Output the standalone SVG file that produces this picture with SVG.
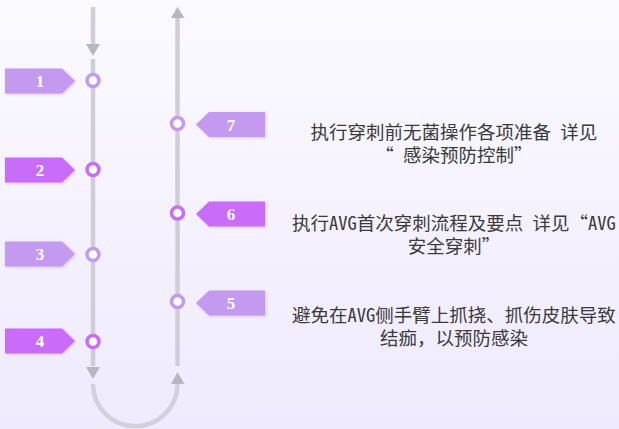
<svg xmlns="http://www.w3.org/2000/svg" width="619" height="429" viewBox="0 0 619 429">
<defs>
<linearGradient id="bg" x1="0" y1="0" x2="0" y2="1">
<stop offset="0" stop-color="#fbfaff"/>
<stop offset="1" stop-color="#efeafd"/>
</linearGradient>
<filter id="glow" x="-30%" y="-50%" width="160%" height="200%">
<feDropShadow dx="1" dy="1" stdDeviation="1.5" flood-color="#b070f0" flood-opacity="0.35"/>
</filter>
<style>
.rail{fill:none;stroke:#d0cdd6;stroke-width:4.5}
.arc{fill:none;stroke:#d3d0db;stroke-width:4.5}
.head{fill:#b8b6be}
.light{fill:#c39af0}
.dark{fill:#c86cf9}
.ringL{fill:#fff;stroke:#c39af0;stroke-width:3.5}
.ringD{fill:#fff;stroke:#c86cf9;stroke-width:3.5}
.num{font-family:"Liberation Serif","DejaVu Serif",serif;font-weight:bold;font-size:17px;fill:#fff;text-anchor:middle}
.txt{font-family:"Noto Sans Mono CJK SC","Noto Sans CJK SC",monospace;font-size:18.5px;fill:#3a3a3a;text-anchor:middle}
</style>
</defs>
<rect width="619" height="429" fill="url(#bg)"/>
<g id="connectors">
<line class="rail" x1="93" y1="7" x2="93" y2="44"/>
<polygon class="head" points="86,44 100,44 93,56"/>
<line class="rail" x1="93" y1="59" x2="93" y2="366"/>
<polygon class="head" points="86,367 100,367 93,379"/>
<path class="arc" d="M93,384 A42,42 0 0 0 177.5,384"/>
<polygon class="head" points="171,384 184.5,384 177.5,372"/>
<line class="rail" x1="177.5" y1="366" x2="177.5" y2="18"/>
<polygon class="head" points="171,18 184.5,18 177.5,7"/>
</g>
<g id="node1">
<polygon class="light" filter="url(#glow)" points="5,68.5 62,68.5 75,81 62,93.5 5,93.5"/>
<text class="num" x="40" y="87">1</text>
<circle class="ringL" cx="93" cy="80.5" r="6"/>
</g>
<g id="node2">
<polygon class="dark" filter="url(#glow)" points="5,157.5 62,157.5 75,170 62,182.5 5,182.5"/>
<text class="num" x="40" y="176">2</text>
<circle class="ringD" cx="93" cy="169.5" r="6"/>
</g>
<g id="node3">
<polygon class="light" filter="url(#glow)" points="5,241.5 62,241.5 75,254 62,266.5 5,266.5"/>
<text class="num" x="40" y="260">3</text>
<circle class="ringL" cx="93" cy="254.5" r="6"/>
</g>
<g id="node4">
<polygon class="dark" filter="url(#glow)" points="5,328.5 62,328.5 75,341 62,353.5 5,353.5"/>
<text class="num" x="40" y="347">4</text>
<circle class="ringD" cx="93" cy="341.5" r="6"/>
</g>
<g id="node5">
<polygon class="light" filter="url(#glow)" points="196,303 209,290.5 265,290.5 265,315.5 209,315.5"/>
<text class="num" x="231" y="309">5</text>
<circle class="ringL" cx="177.5" cy="301.5" r="6"/>
<text class="txt" x="454" y="322">避免在AVG侧手臂上抓挠、抓伤皮肤导致</text>
<text class="txt" x="454" y="345">结痂，以预防感染</text>
</g>
<g id="node6">
<polygon class="dark" filter="url(#glow)" points="196,214 209,201.5 265,201.5 265,226.5 209,226.5"/>
<text class="num" x="231" y="220">6</text>
<circle class="ringD" cx="177.5" cy="213" r="6"/>
<text class="txt" x="454" y="230">执行AVG首次穿刺流程及要点 详见“AVG</text>
<text class="txt" x="454" y="253">安全穿刺”</text>
</g>
<g id="node7">
<polygon class="light" filter="url(#glow)" points="196,124.5 209,112 265,112 265,137 209,137"/>
<text class="num" x="231" y="130.5">7</text>
<circle class="ringL" cx="177.5" cy="123.5" r="6"/>
<text class="txt" x="454" y="139">执行穿刺前无菌操作各项准备 详见</text>
<text class="txt" x="454" y="161.5">“ 感染预防控制”</text>
</g>
</svg>
